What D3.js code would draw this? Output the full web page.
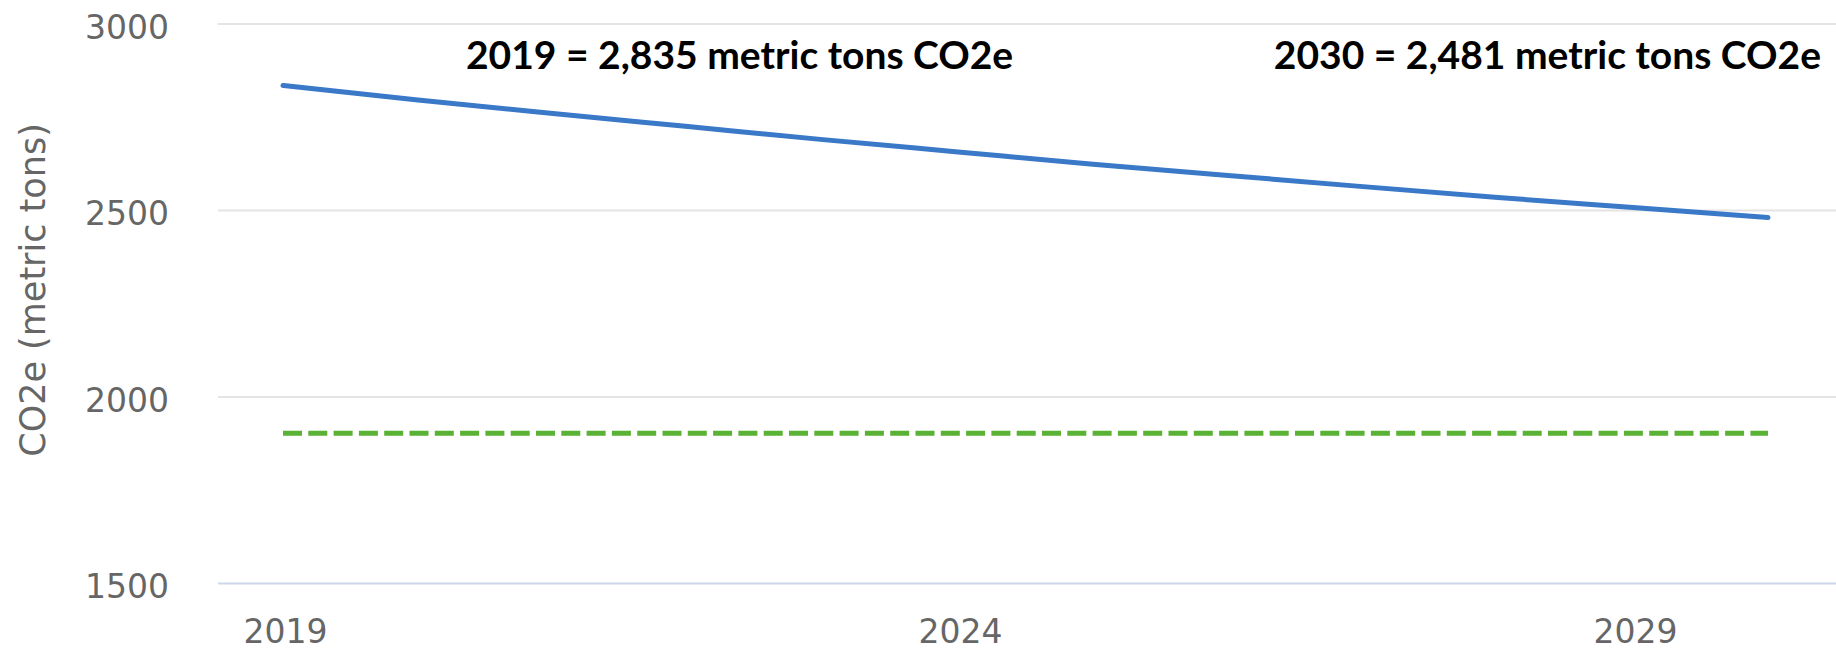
<!DOCTYPE html>
<html>
<head>
<meta charset="utf-8">
<script src="https://cdn.jsdelivr.net/npm/d3@7"></script>
<style>
  html, body { margin: 0; padding: 0; background: #fff; }
  svg { display: block; }
</style>
</head>
<body>
<svg id="chart" width="1836" height="650"></svg>
<script>
  // data
  const years = [2019, 2020, 2021, 2022, 2023, 2024, 2025, 2026, 2027, 2028, 2029, 2030];
  const emissions = [2835, 2796, 2760, 2725, 2690, 2657, 2624, 2594, 2564, 2535, 2508, 2481];
  const targetYears = [2019, 2030];
  const targetValues = [1903, 1903];
  const yTicks = [1500, 2000, 2500, 3000];
  const xTicks = [2019, 2024, 2029];
  const notes = ['2019 = 2,835 metric tons CO2e', '2030 = 2,481 metric tons CO2e'];
  const yTitle = 'CO2e (metric tons)';

  const svg = d3.select('#chart');
  const width = 1836, height = 650;
  const plotLeft = 218;

  const x = d3.scaleLinear().domain([2019, 2030]).range([283, 1768]);
  const y = d3.scaleLinear().domain([1500, 3000]).range([583.5, 24]);

  // grid lines
  const grid = svg.append('g')
  grid.selectAll('line')
    .data(yTicks)
    .enter()
    .append('line')
    .attr('x1', plotLeft)
    .attr('x2', width)
    .attr('y1', function (d) { return y(d) })
    .attr('y2', function (d) { return y(d) })
    .attr('stroke', function (d) { return d === 1500 ? '#ccd6eb' : '#e4e4e4' })
    .attr('stroke-width', 2);

  // y axis labels
  const yAxis = svg.append('g')
    .attr('transform', 'translate(169,0)')
    .call(d3.axisLeft(y).tickValues(yTicks).tickSize(0).tickPadding(0).tickFormat(d3.format('d')));
  yAxis.select('.domain').remove();
  yAxis.selectAll('text')
    .attr('x', 0)
    .attr('dy', '0.43em')
    .attr('fill', '#666')
    .style('font-family', 'DejaVu Sans, sans-serif')
    .style('font-size', '33px');

  // x axis labels
  const xAxis = svg.append('g')
    .attr('transform', 'translate(2,' + y(1500) + ')')
    .call(d3.axisBottom(x).tickValues(xTicks).tickSize(0).tickPadding(0).tickFormat(d3.format('d')));
  xAxis.select('.domain').remove();
  xAxis.selectAll('text')
    .attr('y', 59)
    .attr('dy', 0)
    .attr('fill', '#666')
    .style('font-family', 'DejaVu Sans, sans-serif')
    .style('font-size', '33px');

  // axis title
  svg.append('text')
    .attr('transform', 'translate(33,290) rotate(-90)')
    .attr('text-anchor', 'middle')
    .attr('dominant-baseline', 'central')
    .attr('fill', '#666')
    .style('font-family', 'DejaVu Sans, sans-serif')
    .style('font-size', '35px')
    .text(yTitle);

  // target line
  const target = targetYears.map(function (d, i) { return { year: d, value: targetValues[i] } });
  svg.append('path')
    .datum(target)
    .attr('fill', 'none')
    .attr('stroke', '#5ab234')
    .attr('stroke-width', 5)
    .attr('stroke-dasharray', '19,6.3')
    .attr('d', d3.line().x(function (d) { return x(d.year) }).y(function (d) { return y(d.value) }));

  // emissions line
  const series = years.map(function (d, i) { return { year: d, value: emissions[i] } });
  svg.append('path')
    .datum(series)
    .attr('fill', 'none')
    .attr('stroke', '#3a78c8')
    .attr('stroke-width', 5)
    .attr('stroke-linecap', 'round')
    .attr('stroke-linejoin', 'round')
    .attr('d', d3.line().curve(d3.curveMonotoneX).x(function (d) { return x(d.year) }).y(function (d) { return y(d.value) }));

  // annotations
  svg.append('text')
    .attr('x', 466)
    .attr('y', 69)
    .attr('fill', '#000')
    .style('font-family', 'Lato, sans-serif')
    .style('font-weight', 700)
    .style('font-size', '39px')
    .text(notes[0]);

  svg.append('text')
    .attr('x', 1821)
    .attr('y', 69)
    .attr('text-anchor', 'end')
    .attr('fill', '#000')
    .style('font-family', 'Lato, sans-serif')
    .style('font-weight', 700)
    .style('font-size', '39px')
    .text(notes[1]);
</script>
</body>
</html>
